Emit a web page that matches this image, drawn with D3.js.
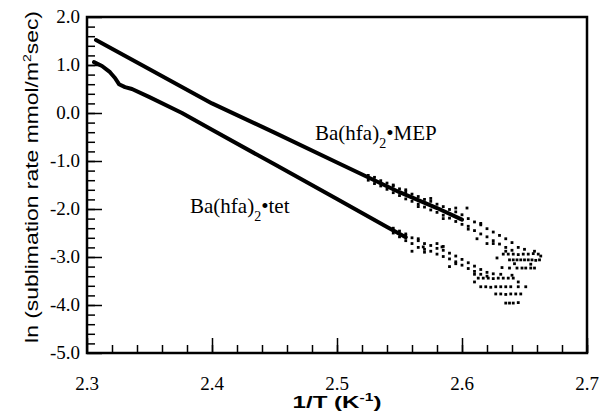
<!DOCTYPE html>
<html>
<head>
<meta charset="utf-8">
<script src="https://cdn.jsdelivr.net/npm/d3@7/dist/d3.min.js"></script>
<style>
body { margin: 0; background: #fff; }
</style>
</head>
<body>
<svg id="chart" width="605" height="420"></svg>
<script>
// solid parts of the two curves, [1/T, ln rate]
var mepLine = [[2.3072, 1.52], [2.35, 0.91], [2.40, 0.20], [2.45, -0.41], [2.50, -1.03],
    [2.55, -1.65], [2.58, -1.98], [2.60, -2.22]]
var tetLine = [[2.3056, 1.06], [2.312, 0.98], [2.3184, 0.85], [2.3224, 0.73], [2.3256, 0.60],
    [2.3304, 0.54], [2.336, 0.50], [2.35, 0.33], [2.376, 0.0], [2.40, -0.35], [2.45, -1.07],
    [2.50, -1.79], [2.54, -2.375], [2.555, -2.59]]

// noisy tails, read point by point
var mepDots = [[2.525, -1.30], [2.525, -1.40], [2.530, -1.34], [2.530, -1.47], [2.535, -1.41],
    [2.535, -1.52], [2.540, -1.46], [2.540, -1.59], [2.545, -1.52], [2.545, -1.66], [2.545, -1.50],
    [2.550, -1.58], [2.550, -1.72], [2.555, -1.64], [2.555, -1.79], [2.555, -1.60], [2.560, -1.69],
    [2.560, -1.84], [2.565, -1.74], [2.565, -1.90], [2.565, -1.95], [2.570, -1.80], [2.570, -1.96],
    [2.575, -1.84], [2.575, -2.02], [2.575, -1.78], [2.580, -1.90], [2.580, -2.07], [2.585, -1.95],
    [2.585, -2.13], [2.585, -2.20], [2.590, -2.01], [2.590, -2.19], [2.595, -2.06], [2.595, -2.26],
    [2.595, -1.98], [2.600, -2.12], [2.600, -2.32], [2.604, -1.98],
    [2.605, -2.20], [2.605, -2.36], [2.605, -2.42], [2.610, -2.27], [2.610, -2.45], [2.615, -2.33],
    [2.615, -2.52], [2.615, -2.30], [2.620, -2.41], [2.620, -2.58], [2.625, -2.48], [2.625, -2.66],
    [2.625, -2.72], [2.630, -2.55], [2.630, -2.73], [2.635, -2.62], [2.635, -2.80], [2.635, -2.88],
    [2.640, -2.70], [2.640, -2.86], [2.645, -2.80], [2.612, -2.62], [2.620, -2.72],
    [2.633, -2.94], [2.637, -2.94], [2.641, -2.94], [2.645, -2.95], [2.649, -2.94], [2.653, -2.94],
    [2.657, -2.93], [2.661, -2.94],
    [2.638, -3.06], [2.641, -3.06], [2.644, -3.06], [2.647, -3.06], [2.650, -3.06], [2.653, -3.06],
    [2.656, -3.06], [2.659, -3.07], [2.662, -3.06],
    [2.638, -3.23], [2.644, -3.23], [2.648, -3.23], [2.651, -3.23], [2.655, -3.23], [2.658, -3.23],
    [2.650, -2.84], [2.658, -2.88], [2.628, -3.02], [2.632, -3.22], [2.663, -2.98],
    [2.642, -3.14], [2.655, -3.15]]
var tetDots = [[2.545, -2.40], [2.545, -2.50], [2.550, -2.46], [2.550, -2.58], [2.555, -2.52],
    [2.555, -2.66], [2.555, -2.55], [2.560, -2.60], [2.560, -2.72], [2.565, -2.66], [2.565, -2.80],
    [2.565, -2.62], [2.570, -2.72], [2.570, -2.84], [2.570, -2.90], [2.575, -2.76], [2.575, -2.88],
    [2.580, -2.82], [2.580, -2.94], [2.580, -2.72], [2.585, -2.86], [2.585, -2.99], [2.585, -2.78],
    [2.590, -2.92], [2.590, -3.04], [2.595, -2.98], [2.595, -3.10], [2.595, -3.14], [2.600, -3.05],
    [2.600, -3.17], [2.605, -3.12], [2.605, -3.24], [2.610, -3.19], [2.610, -3.30], [2.610, -3.36],
    [2.615, -3.26], [2.615, -3.36], [2.620, -3.32], [2.620, -3.40], [2.625, -3.35],
    [2.569, -2.79], [2.584, -2.79], [2.560, -2.88], [2.590, -3.20],
    [2.613, -3.44], [2.617, -3.44], [2.621, -3.44], [2.625, -3.45], [2.629, -3.44], [2.633, -3.44],
    [2.637, -3.44], [2.641, -3.44],
    [2.615, -3.62], [2.619, -3.62], [2.623, -3.63], [2.627, -3.62], [2.631, -3.62], [2.635, -3.62],
    [2.639, -3.62], [2.645, -3.62], [2.651, -3.62],
    [2.627, -3.77], [2.631, -3.77], [2.635, -3.78], [2.639, -3.77], [2.643, -3.77], [2.647, -3.77],
    [2.635, -3.96], [2.638, -3.96], [2.641, -3.96], [2.645, -3.95],
    [2.631, -3.36], [2.645, -3.52], [2.610, -3.52], [2.640, -3.38]]

var xTicks = [2.3, 2.4, 2.5, 2.6, 2.7]
var yTicks = [2.0, 1.0, 0.0, -1.0, -2.0, -3.0, -4.0, -5.0]

var svg = d3.select("#chart")
var serif = "'Liberation Serif', 'Times New Roman', serif"
var sans = "'Liberation Sans', Arial, sans-serif"

var x = d3.scaleLinear().domain([2.3, 2.7]).range([87, 587])
var y = d3.scaleLinear().domain([-5, 2]).range([353, 17])

// minor ticks
svg.append("g").attr("transform", "translate(0,353)")
    .call(d3.axisBottom(x).tickValues(d3.range(2.32, 2.7, 0.02)).tickSize(-8).tickFormat(""))
svg.append("g").attr("transform", "translate(87,0)")
    .call(d3.axisLeft(y).tickValues(d3.range(-4.8, 2, 0.2)).tickSize(-8).tickFormat(""))

// major ticks
svg.append("g").attr("transform", "translate(0,353)")
    .call(d3.axisBottom(x).tickValues(xTicks).tickSize(-15).tickFormat(""))
svg.append("g").attr("transform", "translate(87,0)")
    .call(d3.axisLeft(y).tickValues(yTicks).tickSize(-15).tickFormat(""))

svg.selectAll(".domain").remove()
svg.selectAll(".tick line").attr("stroke", "#000").attr("stroke-width", 1.5)

// tick labels
svg.append("g").selectAll("text")
    .data(xTicks)
    .enter().append("text")
    .attr("x", function(d) { return x(d) })
    .attr("y", 390)
    .attr("text-anchor", "middle")
    .style("font-family", serif).style("font-size", "19px").attr("fill", "#000")
    .text(function(d) { return d.toFixed(1) })
svg.append("g").selectAll("text")
    .data(yTicks)
    .enter().append("text")
    .attr("x", 80)
    .attr("y", function(d) { return y(d) })
    .attr("dy", "0.34em")
    .attr("text-anchor", "end")
    .style("font-family", serif).style("font-size", "19px").attr("fill", "#000")
    .text(function(d) { return d.toFixed(1) })

// frame
svg.append("rect")
    .attr("x", x(2.3)).attr("y", y(2))
    .attr("width", x(2.7) - x(2.3)).attr("height", y(-5) - y(2))
    .attr("fill", "none").attr("stroke", "#000").attr("stroke-width", 2.5)

var line = d3.line()
    .x(function(d) { return x(d[0]) })
    .y(function(d) { return y(d[1]) })

;[mepLine, tetLine].forEach(function(s) {
    svg.append("path").datum(s)
        .attr("d", line)
        .attr("fill", "none").attr("stroke", "#000").attr("stroke-width", 4)
        .attr("stroke-linejoin", "round").attr("stroke-linecap", "round")
})

svg.append("g").selectAll("rect")
    .data(mepDots.concat(tetDots))
    .enter().append("rect")
    .attr("x", function(d) { return x(d[0]) - 1.4 })
    .attr("y", function(d) { return y(d[1]) - 1.4 })
    .attr("width", 2.8).attr("height", 2.8)
    .attr("fill", "#000")

// curve labels
function compound(px, py, tail) {
    var t = svg.append("text").attr("x", px).attr("y", py)
        .style("font-family", serif).style("font-size", "21px").attr("fill", "#000")
    t.append("tspan").text("Ba(hfa)")
    t.append("tspan").attr("dy", 8).style("font-size", "14px").text("2")
    t.append("tspan").attr("dy", -8).text("\u2022" + tail)
}
compound(315, 140, "MEP")
compound(190, 213, "tet")

// stretch a label to the width it has in the picture
function stretch(t, len, tx, ty, rot) {
    var w = t.node().getBBox().width
    t.attr("transform", "translate(" + tx + "," + ty + ") rotate(" + rot + ") scale(" + (len / w) + ",1)")
}

var xt = svg.append("text").attr("text-anchor", "middle")
    .style("font-family", sans).style("font-size", "17px").style("font-weight", "bold")
xt.append("tspan").text("1/T  (K")
xt.append("tspan").attr("dy", -7).style("font-size", "11px").text("-1")
xt.append("tspan").attr("dy", 7).text(")")
stretch(xt, 89, 337, 408, 0)

var yt = svg.append("text").attr("text-anchor", "middle")
    .style("font-family", sans).style("font-size", "18px")
yt.append("tspan").text("ln (sublimation rate mmol/m")
yt.append("tspan").attr("dy", -7).style("font-size", "11px").text("2")
yt.append("tspan").attr("dy", 7).text("sec)")
stretch(yt, 332, 38, 177, -90)
</script>
</body>
</html>
